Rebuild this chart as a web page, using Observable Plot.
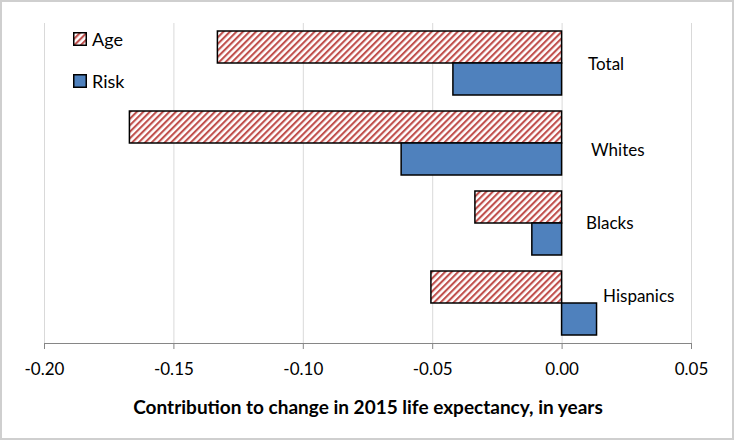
<!DOCTYPE html>
<html>
<head>
<meta charset="utf-8">
<script src="https://cdn.jsdelivr.net/npm/d3@7"></script>
<script src="https://cdn.jsdelivr.net/npm/@observablehq/plot@0.6"></script>
<style>
  html, body { margin: 0; padding: 0; background: #fff; }
  #wrap { position: relative; width: 734px; height: 440px; font-family: Lato, "Open Sans", sans-serif; }
  #border { position: absolute; left: 0; top: 0; width: 734px; height: 440px; box-sizing: border-box; border: 2px solid #cfcfcf; pointer-events: none; }
  #legend { position: absolute; left: 73px; top: 27px; font-size: 18px; color: #000; }
  .li { display: flex; align-items: center; height: 24px; margin-bottom: 18px; }
  .li svg { margin-right: 5px; }
</style>
</head>
<body>
<div id="wrap">
  <div id="chart"></div>
  <div id="legend"></div>
  <div id="border"></div>
</div>
<script>
const categories = ["Total", "Whites", "Blacks", "Hispanics"];
const series = ["Age", "Risk"];
const ageValues = [-0.133, -0.167, -0.0335, -0.0505];
const riskValues = [-0.042, -0.062, -0.0115, 0.0135];
const xTicks = [-0.20, -0.15, -0.10, -0.05, 0.00, 0.05];
const xTickLabels = ["-0.20", "-0.15", "-0.10", "-0.05", "0.00", "0.05"];
const xTitle = "Contribution to change in 2015 life expectancy, in years";

// label nudges (style only, px)
const labelNudge = {Total: [26, 1], Whites: [29, 7], Blacks: [24, 0], Hispanics: [41, -7]};

const ageRows = categories.map((c, i) => ({category: c, series: "Age", value: ageValues[i]}));
const riskRows = categories.map((c, i) => ({category: c, series: "Risk", value: riskValues[i]}));

const colors = {Age: "url(#hatchAge)", Risk: "#4f81bd"};

const chart = Plot.plot({
  width: 734,
  height: 440,
  marginLeft: 44,
  marginRight: 43,
  marginTop: 23,
  marginBottom: 97,
  style: {fontFamily: "Lato, 'Open Sans', sans-serif", fontSize: "17px", color: "#000", background: "transparent"},
  x: {domain: [-0.2, 0.05]},
  y: {domain: categories, paddingInner: 0.2, paddingOuter: 0.1, axis: null},
  marks: [
    Plot.gridX(xTicks, {stroke: "#d9d9d9", strokeOpacity: 1, strokeWidth: 1}),
    Plot.barX(ageRows, {x: "value", y: "category", fill: colors.Age, stroke: "#000", strokeWidth: 1.5, insetBottom: 32}),
    Plot.barX(riskRows, {x: "value", y: "category", fill: colors.Risk, stroke: "#000", strokeWidth: 1.5, insetTop: 32}),
    ...categories.map(c => Plot.text([c], {
      x: () => 0, y: d => d, text: d => d, textAnchor: "start",
      dx: labelNudge[c][0], dy: labelNudge[c][1], fontSize: 17, fill: "#000"
    })),
    Plot.axisX(xTicks, {
      tickSize: 6, tickPadding: 13, stroke: "#868686", fill: "#000",
      tickFormat: (d, i) => xTickLabels[xTicks.indexOf(d)],
      fontSize: 17,
      label: xTitle, labelAnchor: "center", labelOffset: 70, labelArrow: "none"
    })
  ]
});

document.getElementById("chart").appendChild(chart);

const svg = d3.select(chart);
svg.insert("defs", ":first-child").html(`
  <pattern id="hatchAge" patternUnits="userSpaceOnUse" width="4.6" height="4.6" patternTransform="rotate(45)">
    <rect width="4.6" height="4.6" fill="#fff"></rect>
    <rect width="2.1" height="4.6" fill="#c0504d"></rect>
  </pattern>`);

// axis baseline from the x scale
const xs = chart.scale("x");
const x0 = xs.apply(-0.2), x1 = xs.apply(0.05);
svg.append("line").attr("x1", x0).attr("x2", x1).attr("y1", 343.5).attr("y2", 343.5)
  .attr("stroke", "#868686").attr("stroke-width", 1.2);

// bold, larger axis title
svg.selectAll('[aria-label="x-axis label"] text, [aria-label="x-axis label"]')
  .style("font-weight", "bold").style("font-size", "19px");

// legend
const legend = d3.select("#legend");
series.forEach(s => {
  const row = legend.append("div").attr("class", "li");
  const sv = row.append("svg").attr("width", 14).attr("height", 14);
  sv.append("rect").attr("x", 0.75).attr("y", 0.75).attr("width", 12.5).attr("height", 12.5)
    .attr("fill", colors[s]).attr("stroke", "#000").attr("stroke-width", 1.5);
  row.append("span").text(s);
});
</script>
</body>
</html>
